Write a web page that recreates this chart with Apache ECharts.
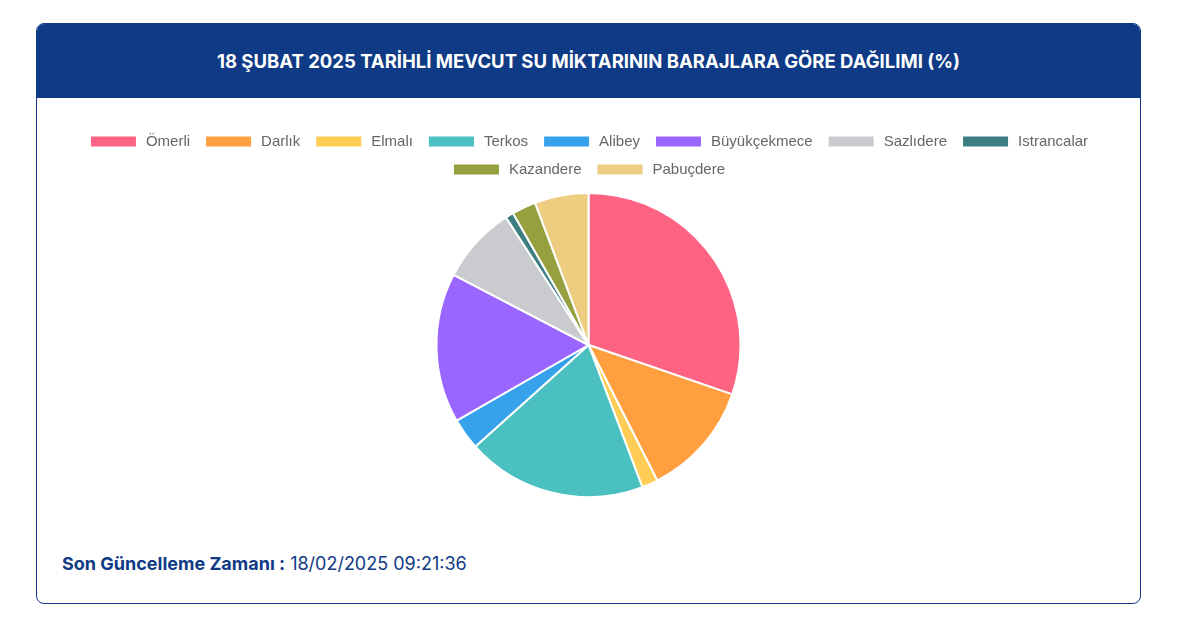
<!DOCTYPE html>
<html>
<head>
<meta charset="utf-8">
<script src="https://cdn.jsdelivr.net/npm/echarts@6/dist/echarts.min.js"></script>
<style>
  html, body { margin: 0; padding: 0; background: #ffffff; width: 1182px; height: 632px; overflow: hidden; }
  #card { position: absolute; left: 36px; top: 23px; width: 1103px; height: 579px; border: 1px solid #0f3a85; border-radius: 8px; box-sizing: content-box; background: #fff; }
  #header { position: absolute; left: 0; top: 0; right: 0; height: 74px; background: #0f3a85; border-radius: 7px 7px 0 0; color: #fff; font-family: Inter, "Noto Sans", sans-serif; font-weight: 700; font-size: 18.5px; line-height: 74px; text-align: center; }
  #chart { position: absolute; left: 0; top: 74px; width: 1103px; height: 440px; }
  #footer { position: absolute; left: 25px; top: 529px; font-family: Inter, "Noto Sans", sans-serif; font-size: 18px; color: #0f3a85; }
  #footer b { font-weight: 700; }
</style>
</head>
<body>
<div id="card">
  <div id="header">18 ŞUBAT 2025 TARİHLİ MEVCUT SU MİKTARININ BARAJLARA GÖRE DAĞILIMI (%)</div>
  <div id="chart"></div>
  <div id="footer"><b>Son Güncelleme Zamanı :</b> 18/02/2025 09:21:36</div>
</div>
<script>
const categories = ["Ömerli", "Darlık", "Elmalı", "Terkos", "Alibey", "Büyükçekmece", "Sazlıdere", "Istrancalar", "Kazandere", "Pabuçdere"];
const values = [30.26, 12.26, 1.71, 19.12, 3.35, 15.92, 8.23, 0.86, 2.56, 5.72];
const colors = ["#ff6384", "#ff9f40", "#ffcd56", "#4bc0c0", "#36a2eb", "#9966ff", "#c9cbcf", "#3d7f80", "#97a03f", "#edcd80"];
const legendRow1 = categories.slice(0, 8);
const legendRow2 = categories.slice(8);

const legendBase = {
  left: 'center',
  itemWidth: 47,
  itemHeight: 12,
  itemGap: 14,
  icon: 'rect',
  textStyle: { fontSize: 15, color: '#666666', fontFamily: '"Liberation Sans", Arial, sans-serif', padding: [0, 0, 0, 4] },
  selectedMode: false
};

const chart = echarts.init(document.getElementById('chart'), null, { renderer: 'canvas' });
chart.setOption({
  animation: false,
  color: colors,
  legend: [
    Object.assign({}, legendBase, { data: legendRow1, top: 31 }),
    Object.assign({}, legendBase, { data: legendRow2, top: 59 })
  ],
  series: [{
    type: 'pie',
    center: ['50%', 247],
    radius: 152,
    startAngle: 90,
    clockwise: true,
    label: { show: false },
    labelLine: { show: false },
    itemStyle: { borderColor: '#ffffff', borderWidth: 2 },
    emphasis: { disabled: true },
    data: categories.map((c, i) => ({ name: c, value: values[i] }))
  }]
});
</script>
</body>
</html>
